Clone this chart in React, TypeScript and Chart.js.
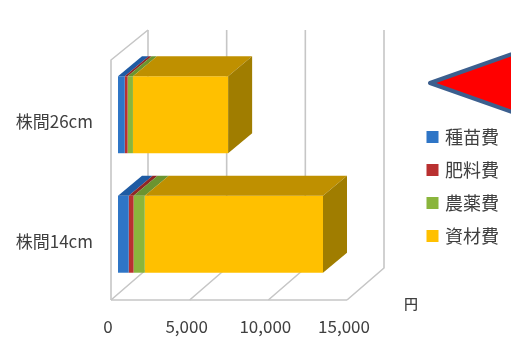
import { useEffect, useRef } from "react";
import { Chart, registerables } from "chart.js";

Chart.register(...registerables);

const FONT = '"Noto Sans CJK JP", "Noto Sans", sans-serif';

const categories = ["株間26cm", "株間14cm"];
const seedCost = [430, 680];
const fertilizerCost = [180, 310];
const pesticideCost = [340, 710];
const materialCost = [6050, 11330];
const xTicks = [0, 5000, 10000, 15000];

const seriesNames = ["種苗費", "肥料費", "農薬費", "資材費"];
const faceColors = ["#2e75c6", "#b93030", "#8ab53c", "#ffc000"];
const topColors = ["#1f5ba3", "#8f2626", "#6b9430", "#bf9000"];
const sideColor = "#a07d00";
const wallColor = "#c6c6c6";

// Oblique projection used for the box walls and the bar extrusions.
const barDepth = { dx: 24, dy: -20 };
const wallFront = { dx: -7, bottom: 300, top: 60 };
const wallBack = { dx: 30, bottom: 268, top: 30 };

function polygon(ctx: CanvasRenderingContext2D, pts: number[][], fill: string) {
  ctx.beginPath();
  pts.forEach(([x, y], i) => (i ? ctx.lineTo(x, y) : ctx.moveTo(x, y)));
  ctx.closePath();
  ctx.fillStyle = fill;
  ctx.fill();
}

const projection3d = {
  id: "projection3d",
  afterLayout(chart: any) {
    // The legend floats to the right of the plot without reserving layout space.
    const legend = chart.legend;
    const w = legend.width;
    const h = legend.height;
    legend.left = 414;
    legend.right = legend.left + w;
    legend.top = 113;
    legend.bottom = legend.top + h;
  },
  beforeDatasetsDraw(chart: any) {
    const { ctx, scales } = chart;
    const sx = scales.x;
    ctx.save();
    ctx.strokeStyle = wallColor;
    ctx.lineWidth = 1.6;
    ctx.lineJoin = "round";
    const x0 = sx.getPixelForValue(0);
    ctx.beginPath();
    ctx.moveTo(x0 + wallFront.dx, wallFront.bottom);
    ctx.lineTo(x0 + wallFront.dx, wallFront.top);
    ctx.lineTo(x0 + wallBack.dx, wallBack.top);
    ctx.moveTo(x0 + wallFront.dx, wallFront.bottom);
    ctx.lineTo(sx.getPixelForValue(xTicks[xTicks.length - 1]) + wallFront.dx, wallFront.bottom);
    ctx.stroke();
    xTicks.forEach((v) => {
      const px = sx.getPixelForValue(v);
      ctx.beginPath();
      ctx.moveTo(px + wallFront.dx, wallFront.bottom);
      ctx.lineTo(px + wallBack.dx, wallBack.bottom);
      ctx.lineTo(px + wallBack.dx, wallBack.top);
      ctx.stroke();
    });
    ctx.restore();
  },
  afterDatasetsDraw(chart: any) {
    const { ctx } = chart;
    const { dx, dy } = barDepth;
    const last = chart.data.datasets.length - 1;
    chart.data.datasets.forEach((_: unknown, di: number) => {
      chart.getDatasetMeta(di).data.forEach((bar: any) => {
        const { x, y, base, height } = bar.getProps(["x", "y", "base", "height"], true);
        const top = y - height / 2;
        const bottom = y + height / 2;
        polygon(ctx, [[base, top], [x, top], [x + dx, top + dy], [base + dx, top + dy]], topColors[di]);
        if (di === last) {
          polygon(ctx, [[x, top], [x + dx, top + dy], [x + dx, bottom + dy], [x, bottom]], sideColor);
        }
      });
    });
  },
  afterDraw(chart: any) {
    const { ctx } = chart;
    ctx.save();
    // Unit label beside the value axis.
    ctx.fillStyle = "#404040";
    ctx.font = `500 14px ${FONT}`;
    ctx.textAlign = "center";
    ctx.textBaseline = "middle";
    ctx.fillText("円", 411, 304);
    // Callout arrow running off the right edge.
    ctx.beginPath();
    ctx.moveTo(430, 83);
    ctx.lineTo(560, 37);
    ctx.lineTo(560, 129);
    ctx.closePath();
    ctx.fillStyle = "#ff0000";
    ctx.strokeStyle = "#3c5f8e";
    ctx.lineWidth = 4;
    ctx.lineJoin = "round";
    ctx.fill();
    ctx.stroke();
    ctx.restore();
  },
};

export default function App() {
  const ref = useRef<HTMLCanvasElement>(null);

  useEffect(() => {
    const values = [seedCost, fertilizerCost, pesticideCost, materialCost];
    const chart = new Chart(ref.current!, {
      type: "bar",
      plugins: [projection3d],
      data: {
        labels: categories,
        datasets: seriesNames.map((label, i) => ({
          label,
          data: values[i],
          backgroundColor: faceColors[i],
          borderWidth: 0,
          categoryPercentage: 1,
          barPercentage: 0.644,
        })),
      },
      options: {
        indexAxis: "y",
        responsive: false,
        animation: false,
        layout: { autoPadding: false, padding: { left: 0, right: 157, top: 55, bottom: 0 } },
        scales: {
          x: {
            stacked: true,
            min: 0,
            max: 15000,
            afterBuildTicks(scale: any) {
              scale.ticks = xTicks.map((value) => ({ value }));
            },
            afterFit(scale: any) {
              scale.height = 47;
            },
            grid: { display: false },
            border: { display: false },
            ticks: {
              autoSkip: false,
              maxRotation: 0,
              padding: 14,
              labelOffset: -10,
              color: "#404040",
              font: { family: FONT, size: 17 },
              callback: (v: any) => Number(v).toLocaleString("en-US"),
            },
          },
          y: {
            stacked: true,
            afterFit(scale: any) {
              scale.width = 118;
            },
            grid: { display: false },
            border: { display: false },
            ticks: {
              padding: 17,
              labelOffset: 7,
              color: "#404040",
              font: { family: FONT, size: 17 },
            },
          },
        },
        plugins: {
          tooltip: { enabled: false },
          legend: {
            position: "chartArea",
            align: "start",
            labels: {
              boxWidth: 7,
              boxHeight: 7,
              padding: 15,
              color: "#404040",
              font: { family: FONT, size: 18 },
              generateLabels(c: any) {
                return Chart.defaults.plugins.legend.labels.generateLabels(c).map((item: any) => ({
                  ...item,
                  strokeStyle: item.fillStyle,
                  lineWidth: 5,
                }));
              },
            },
          },
        },
      } as any,
    });
    return () => chart.destroy();
  }, []);

  return (
    <div style={{ position: "absolute", left: 0, top: 0, width: 511, height: 341 }}>
      <canvas ref={ref} width={511} height={341} style={{ display: "block" }} />
    </div>
  );
}
